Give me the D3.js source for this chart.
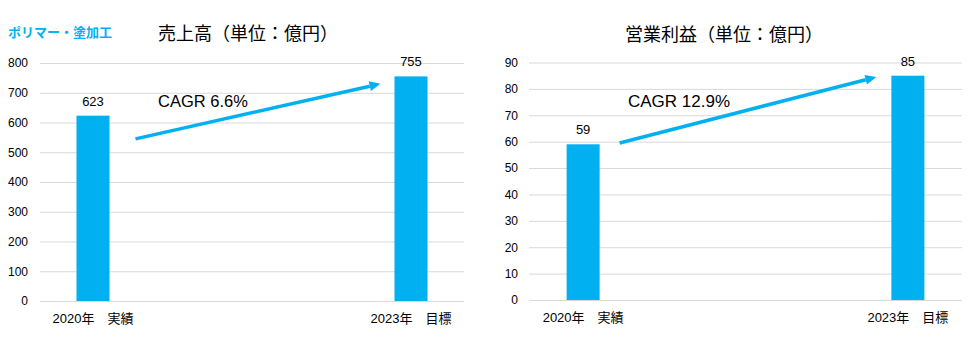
<!DOCTYPE html>
<html>
<head>
<meta charset="utf-8">
<script src="https://cdn.jsdelivr.net/npm/d3@7"></script>
<style>
  html, body { margin: 0; padding: 0; background: #fff; }
  svg { display: block; }
  text { font-family: "Liberation Sans", Arial, "Noto Sans CJK JP", sans-serif; fill: #000; }
  .jp { font-family: "Noto Sans CJK JP", "Liberation Sans", sans-serif; }
</style>
</head>
<body>
<svg id="chart" width="972" height="340"></svg>
<script>
// Segment label
const segmentName = "ポリマー・塗加工";

// Shared categories
const categories = ["2020年　実績", "2023年　目標"];

// Net sales (100 million yen)
const salesTitle = "売上高（単位：億円）";
const salesValues = [623, 755];
const salesTicks = [0, 100, 200, 300, 400, 500, 600, 700, 800];
const salesCagr = "CAGR 6.6%";
const salesArrowValues = [545, 730];

// Operating profit (100 million yen)
const profitTitle = "営業利益（単位：億円）";
const profitValues = [59, 85];
const profitTicks = [0, 10, 20, 30, 40, 50, 60, 70, 80, 90];
const profitCagr = "CAGR 12.9%";
const profitArrowValues = [59.5, 84.5];

const BLUE = "#00B0F0";
const GRID = "#d9d9d9";
const svg = d3.select("#chart");

svg.append("text")
  .attr("class", "jp")
  .attr("x", 8).attr("y", 37)
  .attr("font-size", 13).attr("font-weight", "bold")
  .style("fill", BLUE)
  .text(segmentName);

function drawPanel(o) {
  const g = svg.append("g");
  const x = d3.scalePoint().domain(categories).range([o.left, o.right]).padding(1 / 6);
  const y = d3.scaleLinear().domain([0, d3.max(o.ticks)]).range([o.bottom, o.top]);
  const bw = 33;

  // title
  g.append("text").attr("class", "jp")
    .attr("x", o.titleX).attr("y", o.titleY)
    .attr("text-anchor", "middle").attr("font-size", 18)
    .text(o.title);

  // gridlines + y tick labels via axis
  const axis = d3.axisLeft(y).tickValues(o.ticks).tickSize(-(o.right - o.left)).tickPadding(o.tickPad);
  const ag = g.append("g").attr("transform", `translate(${o.left},0)`).call(axis);
  ag.select(".domain").remove();
  ag.selectAll(".tick line").attr("stroke", GRID).attr("stroke-width", 1);
  ag.selectAll(".tick text").attr("font-size", 12).attr("font-family", null).style("fill", "#000");

  // bars
  g.selectAll("rect.bar").data(o.values).join("rect")
    .attr("class", "bar")
    .attr("x", (d, i) => x(categories[i]) - bw / 2)
    .attr("width", bw)
    .attr("y", d => y(d))
    .attr("height", d => y(0) - y(d))
    .attr("fill", BLUE);

  // value labels
  g.selectAll("text.val").data(o.values).join("text")
    .attr("class", "val")
    .attr("x", (d, i) => x(categories[i]))
    .attr("y", d => y(d) - 10)
    .attr("text-anchor", "middle").attr("font-size", 13)
    .text(d => d);

  // category labels
  g.selectAll("text.cat").data(categories).join("text")
    .attr("class", "cat")
    .attr("x", d => x(d))
    .attr("y", o.bottom + 22)
    .attr("text-anchor", "middle").attr("font-size", 13)
    .text(d => d);

  // growth arrow
  const x1 = x(categories[0]) + bw / 2 + o.arrowGap[0];
  const x2 = x(categories[1]) - bw / 2 - o.arrowGap[1];
  const y1 = y(o.arrowValues[0]);
  const y2 = y(o.arrowValues[1]);
  const ang = Math.atan2(y2 - y1, x2 - x1);
  const headL = 11, headW = 5;
  const bx = x2 - headL * Math.cos(ang), by = y2 - headL * Math.sin(ang);
  g.append("line")
    .attr("x1", x1).attr("y1", y1).attr("x2", bx).attr("y2", by)
    .attr("stroke", BLUE).attr("stroke-width", 3.5);
  const px = -Math.sin(ang), py = Math.cos(ang);
  g.append("path")
    .attr("d", d3.line()([
      [x2, y2],
      [bx + px * headW, by + py * headW],
      [bx - px * headW, by - py * headW]
    ]) + "Z")
    .attr("fill", BLUE);

  // CAGR label
  g.append("text")
    .attr("x", o.cagrX).attr("y", o.cagrY)
    .attr("font-size", o.cagrSize)
    .text(o.cagr);
}

drawPanel({
  left: 40, right: 464, top: 63, bottom: 301,
  ticks: salesTicks, values: salesValues, title: salesTitle,
  titleX: 248, titleY: 40, tickPad: 12,
  arrowValues: salesArrowValues, arrowGap: [26, 14],
  cagr: salesCagr, cagrX: 158, cagrY: 107, cagrSize: 16.5
});

drawPanel({
  left: 529, right: 962, top: 62.5, bottom: 300,
  ticks: profitTicks, values: profitValues, title: profitTitle,
  titleX: 724, titleY: 41, tickPad: 11,
  arrowValues: profitArrowValues, arrowGap: [20, 15],
  cagr: profitCagr, cagrX: 628, cagrY: 107, cagrSize: 17
});
</script>
</body>
</html>
